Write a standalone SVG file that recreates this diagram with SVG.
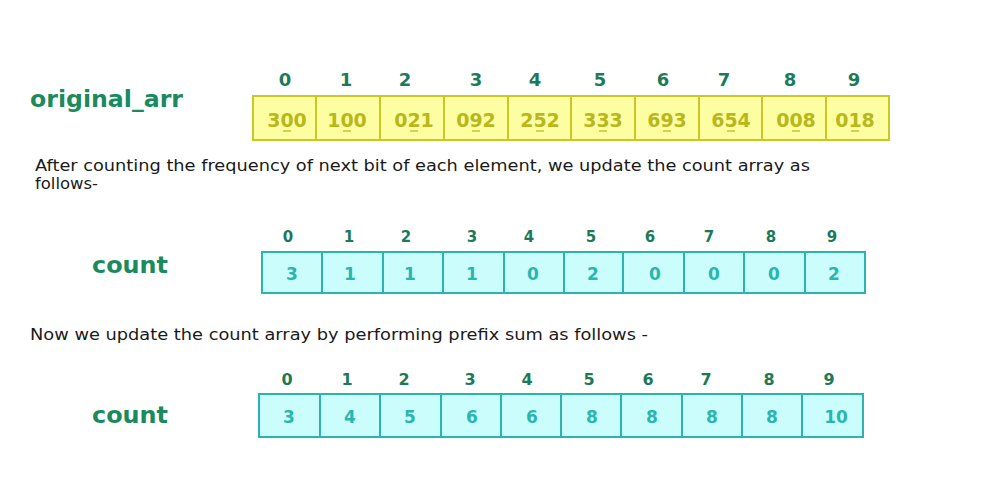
<svg xmlns="http://www.w3.org/2000/svg" width="1000" height="500" viewBox="0 0 1000 500">
<style>
.lbl{font-family:"DejaVu Sans","Liberation Sans",sans-serif;font-weight:700;fill:#1b8a5e}
.idx{font-family:"DejaVu Sans","Liberation Sans",sans-serif;font-weight:700;fill:#1d7a58;text-anchor:middle}
.txt{font-family:"DejaVu Sans","Liberation Sans",sans-serif;font-weight:400;fill:#1a1a1a;font-size:16px}
.yc{fill:#fdfda2;stroke:#c9c824;stroke-width:2}
.yv{font-family:"DejaVu Sans","Liberation Sans",sans-serif;font-weight:700;fill:#b8b81a;text-anchor:middle;font-size:19px}
.cc{fill:#cbfdfc;stroke:#29b4ae;stroke-width:2}
.cv{font-family:"DejaVu Sans","Liberation Sans",sans-serif;font-weight:700;fill:#2ab5ae;text-anchor:middle;font-size:17px}
.ul{stroke:#b8b81a;stroke-width:1.2}
</style>
<rect width="1000" height="500" fill="#ffffff"/>

<g id="original_arr">
<text class="lbl" x="30" y="107" font-size="23" textLength="153" lengthAdjust="spacingAndGlyphs">original_arr</text>
<g class="idx" font-size="18">
<text x="285" y="86">0</text><text x="346" y="86">1</text><text x="405" y="86">2</text><text x="476" y="86">3</text><text x="535" y="86">4</text><text x="600" y="86">5</text><text x="663" y="86">6</text><text x="724" y="86">7</text><text x="790" y="86">8</text><text x="854" y="86">9</text>
</g>
<rect class="yc" x="253" y="96" width="63" height="44"/>
<rect class="yc" x="316" y="96" width="64" height="44"/>
<rect class="yc" x="380" y="96" width="64" height="44"/>
<rect class="yc" x="444" y="96" width="64" height="44"/>
<rect class="yc" x="508" y="96" width="63" height="44"/>
<rect class="yc" x="571" y="96" width="64" height="44"/>
<rect class="yc" x="635" y="96" width="64" height="44"/>
<rect class="yc" x="699" y="96" width="63" height="44"/>
<rect class="yc" x="762" y="96" width="64" height="44"/>
<rect class="yc" x="826" y="96" width="63" height="44"/>
<text class="yv" x="287" y="127">300</text>
<text class="yv" x="347" y="127">100</text>
<text class="yv" x="414" y="127">021</text>
<text class="yv" x="476" y="127">092</text>
<text class="yv" x="540" y="127">252</text>
<text class="yv" x="603" y="127">333</text>
<text class="yv" x="667" y="127">693</text>
<text class="yv" x="731" y="127">654</text>
<text class="yv" x="796" y="127">008</text>
<text class="yv" x="855" y="127">018</text>
<g class="ul">
<line x1="283" y1="131" x2="291" y2="131"/><line x1="343" y1="131" x2="351" y2="131"/><line x1="410" y1="131" x2="418" y2="131"/><line x1="472" y1="131" x2="480" y2="131"/><line x1="536" y1="131" x2="544" y2="131"/><line x1="599" y1="131" x2="607" y2="131"/><line x1="663" y1="131" x2="671" y2="131"/><line x1="727" y1="131" x2="735" y2="131"/><line x1="792" y1="131" x2="800" y2="131"/><line x1="851" y1="131" x2="859" y2="131"/>
</g>
</g>

<g id="text1">
<text class="txt" x="35" y="171" textLength="775" lengthAdjust="spacingAndGlyphs">After counting the frequency of next bit of each element, we update the count array as</text>
<text class="txt" x="35" y="189" textLength="63" lengthAdjust="spacingAndGlyphs">follows-</text>
</g>

<g id="count1">
<text class="lbl" x="92" y="273" font-size="23" textLength="76" lengthAdjust="spacingAndGlyphs">count</text>
<g class="idx" font-size="15">
<text x="288" y="242">0</text><text x="349" y="242">1</text><text x="406" y="242">2</text><text x="472" y="242">3</text><text x="529" y="242">4</text><text x="591" y="242">5</text><text x="650" y="242">6</text><text x="709" y="242">7</text><text x="771" y="242">8</text><text x="832" y="242">9</text>
</g>
<rect class="cc" x="262" y="252" width="60" height="41"/>
<rect class="cc" x="322" y="252" width="61" height="41"/>
<rect class="cc" x="383" y="252" width="60" height="41"/>
<rect class="cc" x="443" y="252" width="61" height="41"/>
<rect class="cc" x="504" y="252" width="60" height="41"/>
<rect class="cc" x="564" y="252" width="59" height="41"/>
<rect class="cc" x="623" y="252" width="61" height="41"/>
<rect class="cc" x="684" y="252" width="60" height="41"/>
<rect class="cc" x="744" y="252" width="61" height="41"/>
<rect class="cc" x="805" y="252" width="60" height="41"/>
<text class="cv" x="292" y="280">3</text><text class="cv" x="350" y="280">1</text><text class="cv" x="410" y="280">1</text><text class="cv" x="472" y="280">1</text><text class="cv" x="533" y="280">0</text><text class="cv" x="593" y="280">2</text><text class="cv" x="655" y="280">0</text><text class="cv" x="714" y="280">0</text><text class="cv" x="774" y="280">0</text><text class="cv" x="834" y="280">2</text>
</g>

<g id="text2">
<text class="txt" x="30" y="340" textLength="618" lengthAdjust="spacingAndGlyphs">Now we update the count array by performing prefix sum as follows -</text>
</g>

<g id="count2">
<text class="lbl" x="92" y="423" font-size="23" textLength="76" lengthAdjust="spacingAndGlyphs">count</text>
<g class="idx" font-size="16">
<text x="287" y="385">0</text><text x="347" y="385">1</text><text x="404" y="385">2</text><text x="470" y="385">3</text><text x="527" y="385">4</text><text x="589" y="385">5</text><text x="648" y="385">6</text><text x="706" y="385">7</text><text x="769" y="385">8</text><text x="829" y="385">9</text>
</g>
<rect class="cc" x="259" y="394" width="61" height="43"/>
<rect class="cc" x="320" y="394" width="60" height="43"/>
<rect class="cc" x="380" y="394" width="61" height="43"/>
<rect class="cc" x="441" y="394" width="60" height="43"/>
<rect class="cc" x="501" y="394" width="60" height="43"/>
<rect class="cc" x="561" y="394" width="60" height="43"/>
<rect class="cc" x="621" y="394" width="61" height="43"/>
<rect class="cc" x="682" y="394" width="60" height="43"/>
<rect class="cc" x="742" y="394" width="60" height="43"/>
<rect class="cc" x="802" y="394" width="61" height="43"/>
<text class="cv" x="289" y="423">3</text><text class="cv" x="350" y="423">4</text><text class="cv" x="410" y="423">5</text><text class="cv" x="472" y="423">6</text><text class="cv" x="532" y="423">6</text><text class="cv" x="592" y="423">8</text><text class="cv" x="652" y="423">8</text><text class="cv" x="712" y="423">8</text><text class="cv" x="772" y="423">8</text><text class="cv" x="836" y="423">10</text>
</g>
</svg>
